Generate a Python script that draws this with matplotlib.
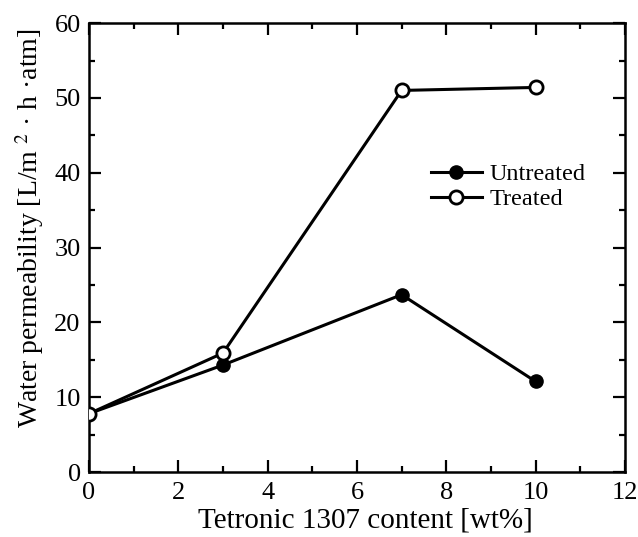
import matplotlib
matplotlib.use("Agg")
import matplotlib.pyplot as plt
from matplotlib.ticker import MultipleLocator

plt.rcParams['font.family'] = ['Liberation Serif', 'DejaVu Serif']
plt.rcParams['mathtext.fontset'] = 'stix'

content = [0, 3, 7, 10]
untreated = [7.8, 14.3, 23.7, 12.1]
treated = [7.8, 15.9, 51.0, 51.4]

fig = plt.figure(figsize=(6.38, 5.37), dpi=100)
ax = fig.add_axes([0.1395, 0.121, 0.840, 0.836])

ax.plot(content, untreated, '-o', color='black', lw=2.2, ms=9.5, mfc='black', mec='black', label='Untreated', zorder=3)
ax.plot(content, treated, '-o', color='black', lw=2.2, ms=9.5, mfc='white', mec='black', mew=2, label='Treated', zorder=4)

ax.set_xlim(0, 12)
ax.set_ylim(0, 60)
ax.xaxis.set_major_locator(MultipleLocator(2))
ax.xaxis.set_minor_locator(MultipleLocator(1))
ax.yaxis.set_major_locator(MultipleLocator(10))
ax.yaxis.set_minor_locator(MultipleLocator(5))
ax.tick_params(which='both', direction='in', top=True, right=True, labelsize=19, width=1.6)
ax.tick_params(which='major', length=8.5)
ax.tick_params(which='minor', length=4.5)
ax.tick_params(axis='x', pad=7)
ax.tick_params(axis='y', pad=6)
for s in ax.spines.values():
    s.set_linewidth(1.8)

ax.set_xlabel('Tetronic 1307 content [wt%]', fontsize=21, labelpad=3, x=0.515)
ax.set_ylabel('Water permeability [L/m $^{2}$ · h ·atm]', fontsize=20, labelpad=6, y=0.543)

leg = ax.legend(loc='upper left', bbox_to_anchor=(0.615, 0.715), frameon=False, fontsize=17.5,
                handlelength=2.1, handletextpad=0.3, labelspacing=0.12, borderpad=0)

fig.savefig('out.png', dpi=100)
